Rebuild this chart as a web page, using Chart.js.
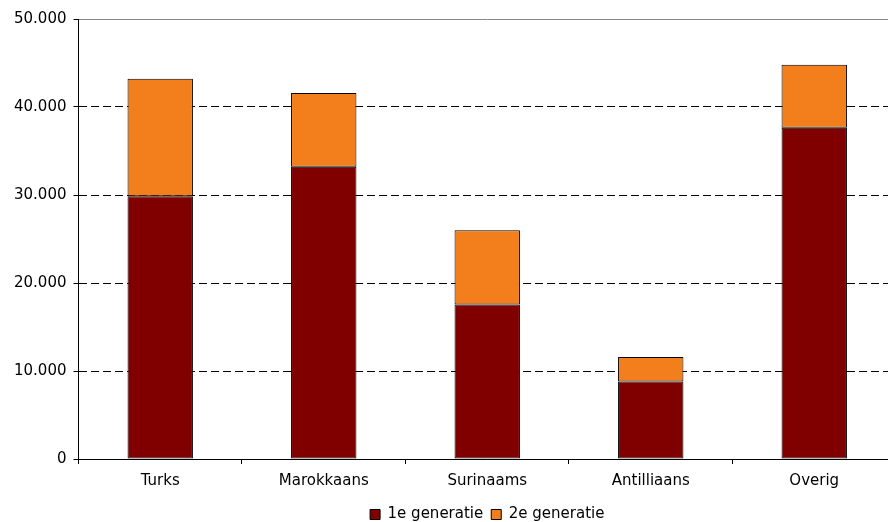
<!DOCTYPE html>
<html>
<head>
<meta charset="utf-8">
<script src="https://cdn.jsdelivr.net/npm/chart.js@4"></script>
<style>
  html, body { margin: 0; padding: 0; background: #fff; overflow: hidden; }
  #wrap { width: 898px; height: 522px; }
</style>
</head>
<body>
<div id="wrap"><canvas id="chart"></canvas></div>
<script>
const groups = ['Turks', 'Marokkaans', 'Surinaams', 'Antilliaans', 'Overig'];
const eersteGen = [29850, 33200, 17550, 8800, 37650];
const tweedeGen = [13350, 8400, 8450, 2800, 7150];
const yTicks = [0, 10000, 20000, 30000, 40000, 50000];

const fmt = v => v === 0 ? '0' : v.toLocaleString('nl-NL');

Chart.defaults.font.family = '"DejaVu Sans", Verdana, sans-serif';
Chart.defaults.font.size = 15;
Chart.defaults.color = '#000';

new Chart(document.getElementById('chart'), {
  type: 'bar',
  data: {
    labels: groups,
    datasets: [{
      label: '1e generatie',
      data: eersteGen,
      backgroundColor: '#800000',
      borderColor: '#000',
      borderWidth: 1,
      borderSkipped: false
    }, {
      label: '2e generatie',
      data: tweedeGen,
      backgroundColor: '#F27E1C',
      borderColor: '#000',
      borderWidth: 1,
      borderSkipped: false
    }]
  },
  options: {
    responsive: true,
    maintainAspectRatio: false,
    animation: false,
    layout: { padding: { top: 19, left: 7, right: 2, bottom: -10 } },
    datasets: { bar: { barPercentage: 0.4, categoryPercentage: 1 } },
    plugins: {
      tooltip: { enabled: false },
      legend: {
        position: 'bottom',
        fullSize: false,
        labels: { boxWidth: 10, boxHeight: 10, padding: 8, color: '#000' }
      }
    },
    scales: {
      x: {
        stacked: true,
        grid: { drawOnChartArea: false, drawTicks: true, tickLength: 5, color: '#000', offset: true },
        border: { color: '#000', width: 1 },
        ticks: { padding: 8, color: '#000' },
        afterFit: axis => { axis.height += 1; }
      },
      y: {
        stacked: true,
        min: 0,
        max: 50000,
        afterBuildTicks: axis => { axis.ticks = yTicks.map(v => ({ value: v })); },
        grid: {
          color: c => (c.tick && c.tick.value === 50000) ? '#888' : '#000',
          tickColor: '#000',
          tickLength: 5,
          tickBorderDash: []
        },
        border: {
          color: '#000',
          width: 1,
          dash: c => (c.tick && c.tick.value > 0 && c.tick.value < 50000) ? [8, 4] : []
        },
        ticks: { padding: 7, color: '#000', callback: v => fmt(v) }
      }
    }
  }
});
</script>
</body>
</html>
